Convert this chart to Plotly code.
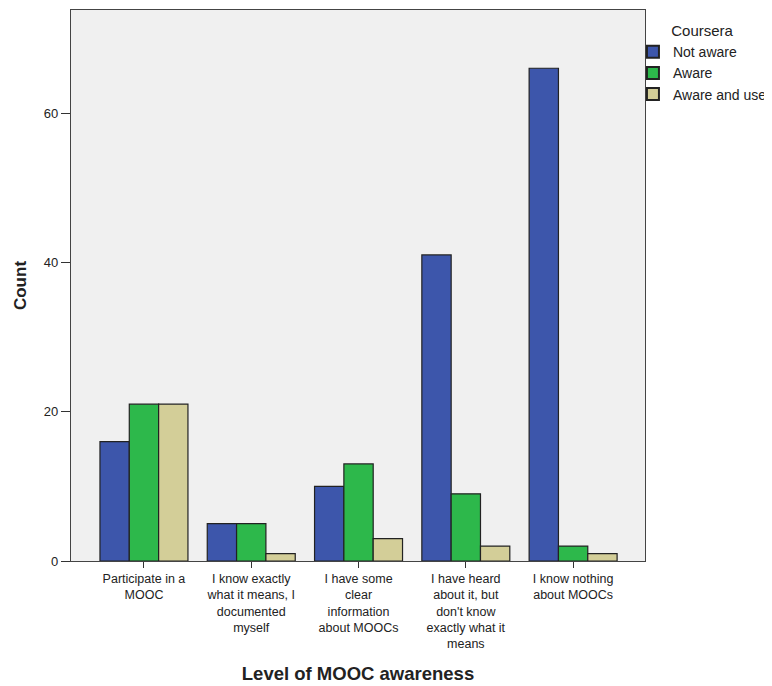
import plotly.graph_objects as go

categories = [
    "Participate in a<br>MOOC",
    "I know exactly<br>what it means, I<br>documented<br>myself",
    "I have some<br>clear<br>information<br>about MOOCs",
    "I have heard<br>about it, but<br>don't know<br>exactly what it<br>means",
    "I know nothing<br>about MOOCs",
]
not_aware = [16, 5, 10, 41, 66]
aware = [21, 5, 13, 9, 2]
aware_and_use = [21, 1, 3, 2, 1]
series_names = ["Not aware", "Aware", "Aware and use"]
colors = ["#3D56AB", "#2DB84B", "#D3CE98"]

fig = go.Figure()
for name, vals, col in zip(series_names, [not_aware, aware, aware_and_use], colors):
    fig.add_trace(go.Bar(
        x=list(range(len(categories))), y=vals, name=name,
        marker=dict(color=col, line=dict(color="#222222", width=1.2)),
    ))

# page body has an 8px default margin, so the figure is offset by 8px
fig.update_layout(
    width=764, height=678,
    margin=dict(l=63, r=127, t=2, b=125, autoexpand=False),
    paper_bgcolor="white",
    plot_bgcolor="#F0F0F0",
    barmode="group",
    bargap=0.18,
    bargroupgap=0,
    font=dict(family="Liberation Sans, Arial, sans-serif", size=13, color="#222222"),
    legend=dict(
        title=dict(text="Coursera", font=dict(size=15), side="top center"),
        x=0.979, xanchor="left", y=0.988, yanchor="top",
        font=dict(size=14), tracegroupgap=0, itemsizing="constant",
        itemwidth=30,
        bgcolor="rgba(0,0,0,0)",
    ),
    showlegend=True,
)
fig.update_xaxes(
    range=[-0.68, 4.67],
    tickmode="array", tickvals=list(range(len(categories))), ticktext=categories,
    ticks="outside", ticklen=6, tickcolor="#333333",
    showline=True, linecolor="#444444", linewidth=1.2, mirror=True,
    showgrid=False, zeroline=False, tickangle=0, automargin=False,
    tickfont=dict(size=12.5),
    title=dict(text="<b>Level of MOOC awareness</b>", font=dict(size=18.5), standoff=16),
)
fig.update_yaxes(
    range=[0, 73.8],
    tickvals=[0, 20, 40, 60],
    ticks="outside", ticklen=9, tickcolor="#333333",
    showline=True, linecolor="#444444", linewidth=1.2, mirror=True,
    showgrid=False, zeroline=False, automargin=False,
    tickfont=dict(size=13),
    title=dict(text="<b>Count</b>", font=dict(size=17), standoff=12),
)
fig.write_html("out.html")
